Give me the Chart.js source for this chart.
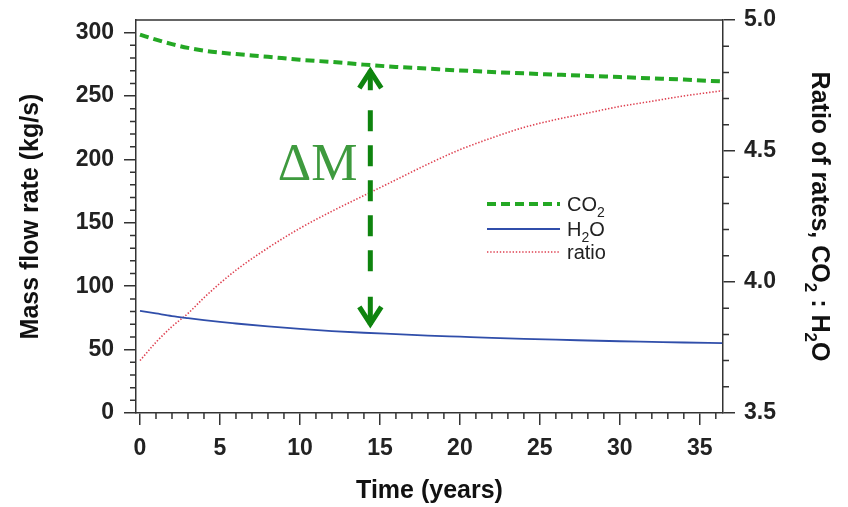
<!DOCTYPE html>
<html>
<head>
<meta charset="utf-8">
<title>Mass flow rate</title>
<script src="https://cdn.jsdelivr.net/npm/chart.js"></script>
<style>
    html, body { margin: 0; padding: 0; background: #fff; }
    #wrap { width: 848px; height: 507px; }
</style>
</head>
<body>
<div id="wrap"><canvas id="flowChart"></canvas></div>
<script>
// values
const years = [0, 1, 2, 3, 4, 5, 6, 8, 10, 12, 14, 16, 18, 20, 22, 24, 26, 28, 30, 32, 34, 36.4];
const co2Rate = [298.5, 294.5, 291, 288, 285.8, 284.3, 283.1, 281, 278.6, 276.9, 274.8, 273, 271.6, 270.2, 269, 267.9, 266.9, 265.9, 265, 264, 263, 261.5];
const h2oRate = [80.5, 78.5, 76.5, 74.8, 73.2, 71.8, 70.6, 68.3, 66.3, 64.6, 63.3, 62.2, 61.1, 60.2, 59.3, 58.5, 57.8, 57.2, 56.6, 56.1, 55.6, 55.1];
const rateRatio = [3.70, 3.77, 3.83, 3.88, 3.94, 3.995, 4.045, 4.13, 4.205, 4.27, 4.33, 4.39, 4.45, 4.505, 4.55, 4.59, 4.62, 4.645, 4.67, 4.69, 4.71, 4.73];

// delta M arrow: year, top and bottom (kg/s)
const dmYear = 14.4;
const dmTop = 272;
const dmBottom = 68;

const green = 'rgb(36,168,36)';
const blue = 'rgb(48,78,170)';
const red = 'rgb(222,64,80)';
const axisColor = '#333';
const tickFont = { family: 'Liberation Sans', size: 23, weight: 'bold' };
const titleFont = { family: 'Liberation Sans', size: 25, weight: 'bold' };

function pts(ys) {
    return years.map((t, i) => ({ x: t, y: ys[i] }));
}

// text with subscript pieces: [text, isSub]
function drawParts(ctx, parts, x, y, size, weight) {
    for (const [txt, sub] of parts) {
        const s = sub ? Math.round(size * 0.68) : size;
        ctx.font = weight + ' ' + s + 'px "Liberation Sans"';
        ctx.fillText(txt, x, sub ? y + size * 0.28 : y);
        x += ctx.measureText(txt).width;
    }
}
function partsWidth(ctx, parts, size, weight) {
    let w = 0;
    for (const [txt, sub] of parts) {
        const s = sub ? Math.round(size * 0.68) : size;
        ctx.font = weight + ' ' + s + 'px "Liberation Sans"';
        w += ctx.measureText(txt).width;
    }
    return w;
}

const extras = {
    id: 'extras',
    afterDraw(chart) {
        const { ctx, chartArea: a, scales } = chart;
        ctx.save();

        // top frame line + minor ticks
        ctx.strokeStyle = axisColor;
        ctx.lineWidth = 1.5;
        ctx.beginPath();
        ctx.moveTo(a.left, a.top);
        ctx.lineTo(a.right, a.top);
        for (let v = 10; v < 310; v += 10) {
            if (v % 50 === 0) continue;
            const y = scales.y.getPixelForValue(v);
            ctx.moveTo(a.left - 6, y);
            ctx.lineTo(a.left, y);
        }
        for (let k = 36; k < 50; k++) {
            if (k % 5 === 0) continue;
            const y = scales.y2.getPixelForValue(k / 10);
            ctx.moveTo(a.right, y);
            ctx.lineTo(a.right + 6, y);
        }
        for (let k = 1; k <= 36; k++) {
            if (k % 5 === 0) continue;
            const x = scales.x.getPixelForValue(k);
            ctx.moveTo(x, a.bottom);
            ctx.lineTo(x, a.bottom + 6);
        }
        ctx.stroke();

        // legend
        const lx0 = 487, lx1 = 560, tx = 567;
        const rows = [
            { y: 204, color: green, width: 4, dash: [9, 5], parts: [['CO', false], ['2', true]] },
            { y: 229, color: blue, width: 1.8, dash: [], parts: [['H', false], ['2', true], ['O', false]] },
            { y: 252, color: red, width: 1.6, dash: [1.4, 1.8], parts: [['ratio', false]] }
        ];
        for (const r of rows) {
            ctx.strokeStyle = r.color;
            ctx.lineWidth = r.width;
            ctx.setLineDash(r.dash);
            ctx.beginPath();
            ctx.moveTo(lx0, r.y);
            ctx.lineTo(lx1, r.y);
            ctx.stroke();
            ctx.setLineDash([]);
            ctx.fillStyle = '#222';
            ctx.textBaseline = 'alphabetic';
            ctx.textAlign = 'left';
            drawParts(ctx, r.parts, tx, r.y + 7, 20, 'normal');
        }

        // right axis title, rotated
        const title = [['Ratio of rates, CO', false], ['2', true], [' : H', false], ['2', true], ['O', false]];
        const tw = partsWidth(ctx, title, 25, 'bold');
        ctx.save();
        ctx.translate(812, (a.top + a.bottom) / 2);
        ctx.rotate(Math.PI / 2);
        ctx.fillStyle = '#111';
        drawParts(ctx, title, -tw / 2, 0, 25, 'bold');
        ctx.restore();

        // delta M arrow
        const x = scales.x.getPixelForValue(dmYear);
        const y1 = scales.y.getPixelForValue(dmTop);
        const y2 = scales.y.getPixelForValue(dmBottom);
        ctx.strokeStyle = 'rgb(14,132,14)';
        ctx.lineWidth = 5;
        ctx.lineCap = 'butt';
        ctx.beginPath();
        ctx.moveTo(x, y1 + 2);
        ctx.lineTo(x, y1 + 22);
        ctx.moveTo(x, y2 - 30);
        ctx.lineTo(x, y2 - 2);
        ctx.stroke();
        ctx.setLineDash([21, 14]);
        ctx.beginPath();
        ctx.moveTo(x, y1 + 42);
        ctx.lineTo(x, y2 - 44);
        ctx.stroke();
        ctx.setLineDash([]);
        ctx.lineJoin = 'miter';
        ctx.beginPath();
        ctx.moveTo(x - 11, y1 + 20);
        ctx.lineTo(x, y1 + 3);
        ctx.lineTo(x + 11, y1 + 20);
        ctx.moveTo(x - 11, y2 - 20);
        ctx.lineTo(x, y2 - 3);
        ctx.lineTo(x + 11, y2 - 20);
        ctx.stroke();

        ctx.fillStyle = 'rgb(62,154,62)';
        ctx.font = '52px "Liberation Serif"';
        ctx.textAlign = 'center';
        ctx.textBaseline = 'alphabetic';
        ctx.fillText('\u0394M', scales.x.getPixelForValue(11.1), scales.y.getPixelForValue(184));

        ctx.restore();
    }
};

function fitV(width) {
    return (s) => {
        s.width = width;
        s.paddingTop = 0;
        s.paddingBottom = 0;
    };
}

new Chart(document.getElementById('flowChart'), {
    type: 'line',
    data: {
        datasets: [
            {
                label: 'CO2',
                data: pts(co2Rate),
                yAxisID: 'y',
                borderColor: green,
                borderWidth: 4,
                borderDash: [9, 5],
                pointRadius: 0,
                cubicInterpolationMode: 'monotone'
            },
            {
                label: 'H2O',
                data: pts(h2oRate),
                yAxisID: 'y',
                borderColor: blue,
                borderWidth: 1.8,
                pointRadius: 0,
                cubicInterpolationMode: 'monotone'
            },
            {
                label: 'ratio',
                data: pts(rateRatio),
                yAxisID: 'y2',
                borderColor: red,
                borderWidth: 1.6,
                borderDash: [1.4, 1.8],
                pointRadius: 0,
                cubicInterpolationMode: 'monotone'
            }
        ]
    },
    options: {
        responsive: true,
        maintainAspectRatio: false,
        animation: false,
        layout: { padding: { top: 20, left: 0, right: 0, bottom: 0 } },
        plugins: {
            legend: { display: false },
            tooltip: { enabled: false }
        },
        scales: {
            x: {
                type: 'linear',
                min: -0.25,
                max: 36.45,
                afterFit(s) {
                    s.height = 94;
                    s.paddingLeft = 0;
                    s.paddingRight = 0;
                },
                ticks: {
                    stepSize: 5,
                    includeBounds: false,
                    color: '#222',
                    font: tickFont,
                    padding: 10,
                    maxRotation: 0
                },
                grid: { display: true, drawOnChartArea: false, tickLength: 12, color: axisColor, lineWidth: 1.5 },
                border: { display: true, color: axisColor, width: 1.5 },
                title: {
                    display: true,
                    text: 'Time (years)',
                    color: '#111',
                    font: titleFont,
                    padding: { top: 0, bottom: 1 }
                }
            },
            y: {
                position: 'left',
                min: 0,
                max: 310,
                afterFit: fitV(136),
                ticks: {
                    stepSize: 50,
                    includeBounds: false,
                    color: '#222',
                    font: tickFont,
                    padding: 10
                },
                grid: { display: true, drawOnChartArea: false, tickLength: 12, color: axisColor, lineWidth: 1.5 },
                border: { display: true, color: axisColor, width: 1.5 },
                title: {
                    display: true,
                    text: 'Mass flow rate (kg/s)',
                    color: '#111',
                    font: titleFont,
                    padding: { top: 16, bottom: 0 }
                }
            },
            y2: {
                position: 'right',
                min: 3.5,
                max: 5.0,
                afterFit: fitV(125),
                ticks: {
                    stepSize: 0.5,
                    includeBounds: false,
                    color: '#222',
                    font: tickFont,
                    padding: 9,
                    callback: (v) => v.toFixed(1)
                },
                grid: { display: true, drawOnChartArea: false, tickLength: 12, color: axisColor, lineWidth: 1.5 },
                border: { display: true, color: axisColor, width: 1.5 }
            }
        }
    },
    plugins: [extras]
});
</script>
</body>
</html>
